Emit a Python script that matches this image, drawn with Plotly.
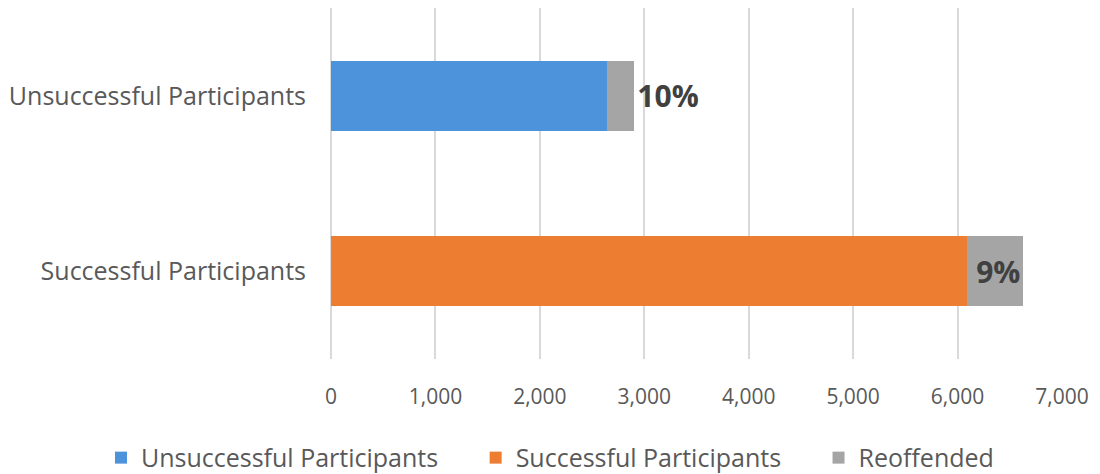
import plotly.graph_objects as go

categories = ["Successful Participants", "Unsuccessful Participants"]
unsuccessful_vals = [None, 2640]
successful_vals = [6090, None]
reoffended_vals = [540, 265]
reoffended_labels = ["9%", "10%"]
tick_vals = [0, 1000, 2000, 3000, 4000, 5000, 6000, 7000]
tick_text = ["0", "1,000", "2,000", "3,000", "4,000", "5,000", "6,000", "7,000"]
legend_names = ["Unsuccessful Participants", "Successful Participants", "Reoffended"]

FONT = "Open Sans"
TXT = "#595959"
PAD = "\u00a0" * 5

fig = go.Figure()
fig.add_trace(go.Bar(y=categories, x=unsuccessful_vals, orientation="h",
                     name=legend_names[0] + PAD,
                     marker=dict(color="#4C93DB", line=dict(width=0))))
fig.add_trace(go.Bar(y=categories, x=successful_vals, orientation="h",
                     name=legend_names[1] + PAD,
                     marker=dict(color="#ED7D31", line=dict(width=0))))
fig.add_trace(go.Bar(y=categories, x=reoffended_vals, orientation="h",
                     name=legend_names[2],
                     marker=dict(color="#A5A5A5", line=dict(width=0)),
                     text=reoffended_labels,
                     textposition=["inside", "outside"],
                     insidetextanchor="end",
                     textangle=0,
                     cliponaxis=False,
                     textfont=dict(family=FONT, size=30, color="#404040", weight="bold"),
                     constraintext="none"))

fig.update_layout(
    barmode="stack",
    bargap=0.6,
    width=1100, height=474,
    margin=dict(l=0, r=0, t=8, b=115, autoexpand=False),
    plot_bgcolor="white", paper_bgcolor="white",
    font=dict(family=FONT, size=21, color=TXT),
    uniformtext=dict(mode=False),
    legend=dict(orientation="h", xref="container", yref="container",
                x=0.5, xanchor="center", y=0.034, yanchor="middle",
                font=dict(family=FONT, size=25, color=TXT), traceorder="normal",
                itemwidth=30),
    xaxis=dict(domain=[331 / 1100, 1062 / 1100], range=[0, 7000],
               tickvals=tick_vals, ticktext=tick_text,
               showgrid=True, gridcolor="#D9D9D9", gridwidth=2,
               zeroline=True, zerolinecolor="#D9D9D9", zerolinewidth=2,
               showline=False, ticks="", ticklabelstandoff=23, automargin=False,
               tickfont=dict(family=FONT, size=21, color=TXT)),
    yaxis=dict(showgrid=False, showline=False, ticks="", ticklabelstandoff=24,
               automargin=False,
               tickfont=dict(family=FONT, size=25, color=TXT)),
)

fig.write_html("out.html")
